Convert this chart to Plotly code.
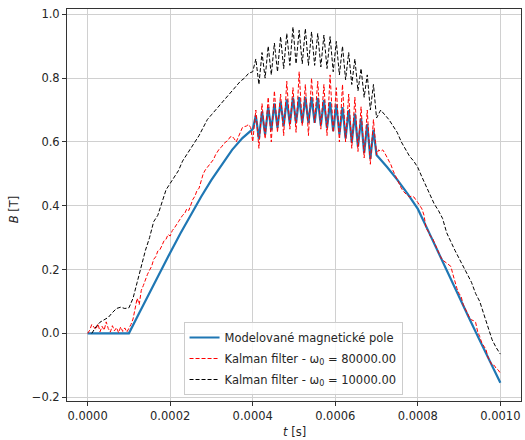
import plotly.graph_objects as go

# ---------------- data (time in microseconds, B in tesla) ----------------
# Modelled field
T_BLUE_PRE = [0, 100, 125, 150, 175, 200, 225, 250, 275, 300, 325, 350, 375, 400]
B_BLUE_PRE = [0.0, 0.0, 0.064, 0.128, 0.191, 0.253, 0.314, 0.372, 0.428, 0.481,
              0.530, 0.575, 0.612, 0.640]

# oscillation region sample times (half-period steps)
T_OSC = [407.5, 415, 422.5, 430, 437.5, 445, 452.5, 460, 467.5, 475,
         482.5, 490, 497.5, 505, 512.5, 520, 527.5, 535, 542.5, 550,
         557.5, 565, 572.5, 580, 587.5, 595, 602.5, 610, 617.5, 625,
         632.5, 640, 647.5, 655, 662.5, 670, 677.5, 685, 692.5, 700]

B_BLUE_OSC = [0.683, 0.610, 0.696, 0.623, 0.709, 0.636, 0.721, 0.644, 0.727, 0.650,
              0.733, 0.656, 0.739, 0.660, 0.740, 0.660, 0.740, 0.660, 0.740, 0.660,
              0.738, 0.651, 0.731, 0.643, 0.725, 0.634, 0.718, 0.624, 0.709, 0.611,
              0.700, 0.598, 0.689, 0.585, 0.674, 0.565, 0.656, 0.547, 0.638, 0.559]

T_BLUE_POST = [725, 750, 775, 800, 825, 850, 875, 900, 925, 950, 975, 1000]
B_BLUE_POST = [0.522, 0.482, 0.438, 0.390, 0.322, 0.252, 0.183, 0.113, 0.046, -0.022, -0.089, -0.155]

# Kalman filter, omega0 = 80000
T_RED_PRE = list(range(0, 405, 5))
B_RED_PRE = [0.000, 0.010, 0.028, 0.020, 0.012, 0.030, 0.005, 0.022, 0.010, 0.036,
             0.015, 0.004, 0.024, 0.008, 0.018, 0.002, 0.020, 0.006, 0.017, 0.004,
             0.015, 0.028, 0.045, 0.075, 0.110, 0.090, 0.135, 0.150, 0.170, 0.185,
             0.198, 0.210, 0.232, 0.240, 0.258, 0.262, 0.275, 0.290, 0.295, 0.310,
             0.305, 0.322, 0.330, 0.342, 0.350, 0.360, 0.370, 0.375, 0.390, 0.385,
             0.405, 0.420, 0.430, 0.448, 0.455, 0.478, 0.500, 0.512, 0.520, 0.530,
             0.535, 0.545, 0.560, 0.572, 0.580, 0.585, 0.595, 0.600, 0.605, 0.615,
             0.618, 0.610, 0.600, 0.615, 0.630, 0.645, 0.648, 0.650, 0.655, 0.645,
             0.600]
B_RED_OSC = [0.70, 0.58, 0.72, 0.61, 0.74, 0.60, 0.76, 0.63, 0.75, 0.62,
             0.79, 0.64, 0.77, 0.63, 0.82, 0.65, 0.78, 0.62, 0.80, 0.66,
             0.79, 0.64, 0.78, 0.62, 0.81, 0.63, 0.77, 0.60, 0.78, 0.60,
             0.75, 0.58, 0.74, 0.57, 0.71, 0.55, 0.70, 0.53, 0.67, 0.56]
T_RED_POST = list(range(705, 1005, 5))
B_RED_POST = [0.575, 0.570, 0.575, 0.565, 0.554, 0.540, 0.528, 0.510, 0.496, 0.482,
              0.465, 0.455, 0.445, 0.438, 0.432, 0.428, 0.430, 0.428, 0.420, 0.410,
              0.400, 0.390, 0.370, 0.330, 0.320, 0.305, 0.300, 0.285, 0.265, 0.250,
              0.240, 0.230, 0.225, 0.220, 0.215, 0.210, 0.185, 0.160, 0.140, 0.125,
              0.115, 0.090, 0.075, 0.060, 0.050, 0.042, 0.040, 0.035, 0.005, -0.010,
              -0.030, -0.040, -0.050, -0.075, -0.090, -0.100, -0.100, -0.110, -0.115, -0.125]

# Kalman filter, omega0 = 10000
T_BLACK_PRE = list(range(10, 410, 10))
B_BLACK_PRE = [0.000, 0.020, 0.035, 0.042, 0.050, 0.065, 0.078, 0.082, 0.078, 0.080,
               0.110, 0.160, 0.210, 0.260, 0.300, 0.350, 0.370, 0.410, 0.450, 0.470,
               0.490, 0.510, 0.540, 0.560, 0.580, 0.600, 0.620, 0.645, 0.670, 0.685,
               0.700, 0.715, 0.730, 0.745, 0.760, 0.775, 0.790, 0.800, 0.815, 0.820]
B_BLACK_OSC = [0.86, 0.78, 0.88, 0.80, 0.90, 0.81, 0.91, 0.82, 0.93, 0.83,
               0.94, 0.84, 0.96, 0.845, 0.95, 0.845, 0.955, 0.84, 0.945, 0.84,
               0.94, 0.835, 0.935, 0.83, 0.93, 0.82, 0.915, 0.81, 0.90, 0.795,
               0.88, 0.78, 0.86, 0.76, 0.83, 0.74, 0.81, 0.70, 0.78, 0.675]
T_BLACK_POST = list(range(710, 1010, 10))
B_BLACK_POST = [0.700, 0.685, 0.670, 0.650, 0.630, 0.600, 0.575, 0.555, 0.540, 0.520,
                0.490, 0.460, 0.430, 0.405, 0.385, 0.360, 0.315, 0.285, 0.260, 0.235,
                0.210, 0.185, 0.160, 0.125, 0.100, 0.060, 0.020, -0.020, -0.045, -0.065]

X_TICKS = [0.0, 0.0002, 0.0004, 0.0006, 0.0008, 0.0010]
X_TICK_TEXT = ["0.0000", "0.0002", "0.0004", "0.0006", "0.0008", "0.0010"]
Y_TICKS = [-0.2, 0.0, 0.2, 0.4, 0.6, 0.8, 1.0]
Y_TICK_TEXT = ["\u22120.2", "0.0", "0.2", "0.4", "0.6", "0.8", "1.0"]

NAMES = ["Modelované magnetické pole",
         "Kalman filter - ω<sub>0</sub> = 80000.00",
         "Kalman filter - ω<sub>0</sub> = 10000.00"]
X_TITLE = "<i>t</i> [s]"
Y_TITLE = "<i>B</i> [T]"

US = 1e-6


def sec(ts):
    return [t * US for t in ts]


FONT = "DejaVu Sans, Verdana, sans-serif"
TXT = "#262626"

fig = go.Figure()
fig.add_trace(go.Scatter(x=sec(T_BLUE_PRE + T_OSC + T_BLUE_POST),
                         y=B_BLUE_PRE + B_BLUE_OSC + B_BLUE_POST,
                         mode="lines", name=NAMES[0], legendgroup="a",
                         line=dict(color="#1f77b4", width=2.2)))
fig.add_trace(go.Scatter(x=sec(T_RED_PRE + T_OSC + T_RED_POST),
                         y=B_RED_PRE + B_RED_OSC + B_RED_POST,
                         mode="lines", name=NAMES[1], legendgroup="b",
                         line=dict(color="#ff0000", width=1, dash="4px,2px")))
fig.add_trace(go.Scatter(x=sec(T_BLACK_PRE + T_OSC + T_BLACK_POST),
                         y=B_BLACK_PRE + B_BLACK_OSC + B_BLACK_POST,
                         mode="lines", name=NAMES[2], legendgroup="c",
                         line=dict(color="#000000", width=1, dash="4px,2px")))

axis_common = dict(showgrid=True, gridcolor="#d0d0d0", gridwidth=1,
                   showline=True, mirror=True, linecolor="#333333", linewidth=1,
                   ticks="outside", ticklen=4, tickcolor="#333333",
                   zeroline=False, automargin=False,
                   tickfont=dict(family=FONT, size=11.5, color=TXT))

fig.update_layout(
    width=525, height=440,
    margin=dict(l=67, r=4, t=9, b=39),
    paper_bgcolor="white", plot_bgcolor="white",
    font=dict(family=FONT, size=11.5, color=TXT),
    xaxis=dict(range=[-0.00005, 0.00105], tickvals=X_TICKS, ticktext=X_TICK_TEXT,
               **axis_common),
    yaxis=dict(range=[-0.212, 1.0166], tickvals=Y_TICKS, ticktext=Y_TICK_TEXT,
               **axis_common),
    legend=dict(x=0.2567, y=0.0153, xanchor="left", yanchor="bottom",
                bgcolor="rgba(255,255,255,0.85)", bordercolor="#cccccc", borderwidth=1,
                font=dict(family=FONT, size=11.5, color=TXT),
                itemwidth=30, tracegroupgap=2),
    showlegend=True,
    annotations=[
        dict(text=X_TITLE, xref="paper", yref="paper", x=0.502, y=-0.079,
             xanchor="center", yanchor="middle", showarrow=False,
             font=dict(family=FONT, size=11.5, color=TXT)),
        dict(text=Y_TITLE, xref="paper", yref="paper", x=-0.118, y=0.49,
             xanchor="center", yanchor="middle", showarrow=False, textangle=-90,
             font=dict(family=FONT, size=11.5, color=TXT)),
    ],
)

fig.write_html("out.html",
               config={"displayModeBar": False},
               post_script="document.body.style.margin='0px';document.body.style.overflow='hidden';")
